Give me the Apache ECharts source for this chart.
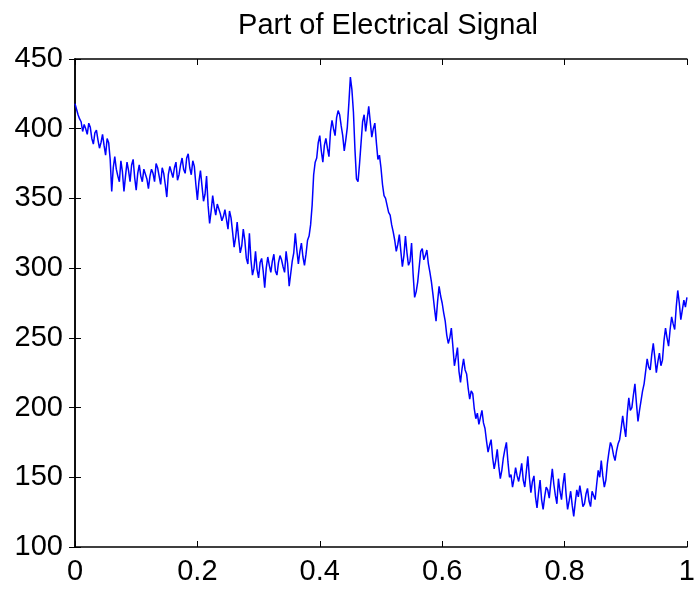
<!DOCTYPE html>
<html>
<head>
<meta charset="utf-8">
<script src="https://cdn.jsdelivr.net/npm/echarts@6/dist/echarts.min.js"></script>
<style>
html,body{margin:0;padding:0;background:#fff;}
#chart{width:698px;height:593px;}
</style>
</head>
<body>
<div id="chart"></div>
<script>
// Title and axis ticks
const titleText = "Part of Electrical Signal";
const xTicks = [0, 0.2, 0.4, 0.6, 0.8, 1];
const yTicks = [100, 150, 200, 250, 300, 350, 400, 450];
// Sample spacing of the signal along x (0..1)
const xStep = 0.0025;
// Signal values (one per x step)
const signal = [
418,414,410,407,405,398,403,400,396,404,401,393,389,397,399,392,386,390,396,388,
381,393,390,378,355,372,380,371,366,362,377,369,355,366,376,370,362,374,378,365,
356,368,374,366,362,371,370,364,357,366,371,368,362,375,372,366,360,372,368,360,
351,367,373,369,365,372,376,363,367,374,379,371,368,379,382,372,367,377,373,360,
349,362,370,359,348,353,366,345,332,341,352,344,338,346,345,339,334,337,342,335,
328,341,336,326,315,322,333,321,311,316,328,320,307,303,325,306,295,300,312,299,
293,304,307,298,286,300,308,302,297,305,310,298,295,304,309,306,301,297,312,303,
287,296,305,311,325,313,303,312,318,308,302,310,320,323,331,345,367,376,379,390,
395,384,376,388,393,386,380,398,406,400,395,408,413,410,402,395,384,392,401,418,
437,428,412,385,364,362,375,390,405,410,398,407,416,405,394,400,404,390,378,381,
372,360,352,350,345,340,338,331,326,320,312,317,324,312,301,309,323,311,302,305,
318,296,279,283,290,301,312,314,306,309,313,303,297,290,281,271,262,276,287,280,
275,268,262,252,246,250,257,244,230,236,243,226,218,228,235,227,224,214,206,212,
210,199,192,196,188,193,198,189,185,176,168,173,177,164,156,162,170,158,149,155,
164,170,175,161,150,152,143,149,157,151,147,153,160,148,143,154,165,150,139,147,
151,136,128,139,148,134,127,136,143,141,135,146,156,145,137,131,149,140,134,145,
153,138,127,133,140,130,122,132,141,136,144,137,129,131,138,142,133,129,140,137,
134,145,155,150,162,151,143,148,160,168,175,172,166,162,169,174,177,185,194,186,
179,196,207,198,200,209,217,203,190,198,205,212,217,226,235,229,227,238,246,236,
225,233,239,230,234,248,257,250,244,256,265,260,256,272,284,275,263,270,277,272,
279
];

const points = signal.map((v, i) => [+(i * xStep).toFixed(4), v]);

const chart = echarts.init(document.getElementById('chart'), null, {renderer: 'canvas'});
const font = 'Liberation Sans, Arial, Helvetica, sans-serif';
const axisLine = {show: true, lineStyle: {color: '#000', width: 1.5}};
const tickIn = {show: true, inside: true, length: 6, lineStyle: {color: '#000', width: 1}};

chart.setOption({
  animation: false,
  backgroundColor: '#fff',
  title: {
    text: titleText,
    left: 383, top: 6, textAlign: 'center',
    textStyle: {fontFamily: font, fontSize: 29, fontWeight: 'normal', color: '#000'}
  },
  grid: {left: 75, right: 6, top: 59, bottom: 46, containLabel: false},
  xAxis: [
    {
      type: 'value', min: xTicks[0], max: xTicks[xTicks.length - 1],
      interval: xTicks[1] - xTicks[0],
      axisLine: axisLine, axisTick: tickIn, splitLine: {show: false},
      axisLabel: {fontFamily: font, fontSize: 29, color: '#000', margin: 10,
        formatter: v => String(+v.toFixed(1))}
    },
    {
      type: 'value', position: 'top', min: xTicks[0], max: xTicks[xTicks.length - 1],
      interval: xTicks[1] - xTicks[0],
      axisLine: axisLine, axisTick: tickIn, splitLine: {show: false},
      axisLabel: {show: false}
    }
  ],
  yAxis: [
    {
      type: 'value', min: yTicks[0], max: yTicks[yTicks.length - 1],
      interval: yTicks[1] - yTicks[0],
      axisLine: axisLine, axisTick: tickIn, splitLine: {show: false},
      axisLabel: {fontFamily: font, fontSize: 29, color: '#000', margin: 12}
    },
    {
      type: 'value', position: 'right', min: yTicks[0], max: yTicks[yTicks.length - 1],
      interval: yTicks[1] - yTicks[0],
      axisLine: axisLine, axisTick: tickIn, splitLine: {show: false},
      axisLabel: {show: false}
    }
  ],
  series: [{
    type: 'line',
    data: points,
    xAxisIndex: 0, yAxisIndex: 0,
    showSymbol: false,
    symbol: 'none',
    lineStyle: {color: '#0000ff', width: 1.5},
    itemStyle: {color: '#0000ff'}
  }]
});
</script>
</body>
</html>
